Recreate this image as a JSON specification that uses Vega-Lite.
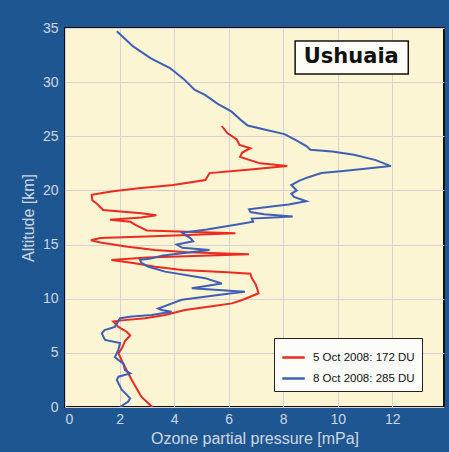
{
  "$schema": "https://vega.github.io/schema/vega-lite/v6.json",
  "width": 379,
  "height": 379,
  "autosize": "none",
  "padding": {"left": 65, "top": 28, "right": 5, "bottom": 45},
  "background": "#1d5690",
  "config": {
    "view": {"fill": "#fbf5d3", "stroke": "#111111", "strokeWidth": 2},
    "font": "Liberation Sans",
    "axis": {
      "grid": true,
      "gridColor": "#d8d2d6",
      "gridWidth": 1,
      "domain": false,
      "ticks": false,
      "labelColor": "#d0d7e2",
      "labelFontSize": 14,
      "titleColor": "#d0d7e2",
      "titleFontSize": 16,
      "titleFontWeight": "normal"
    }
  },
  "datasets": {
    "profiles": [
      {"series": "5 Oct 2008: 172 DU", "alt": 0.0, "o3": 3.2},
      {"series": "5 Oct 2008: 172 DU", "alt": 0.95, "o3": 2.8},
      {"series": "5 Oct 2008: 172 DU", "alt": 2.5, "o3": 2.45},
      {"series": "5 Oct 2008: 172 DU", "alt": 3.4, "o3": 2.26},
      {"series": "5 Oct 2008: 172 DU", "alt": 4.2, "o3": 2.1},
      {"series": "5 Oct 2008: 172 DU", "alt": 4.95, "o3": 1.96},
      {"series": "5 Oct 2008: 172 DU", "alt": 5.5, "o3": 2.1},
      {"series": "5 Oct 2008: 172 DU", "alt": 6.1, "o3": 2.2},
      {"series": "5 Oct 2008: 172 DU", "alt": 6.6, "o3": 2.39},
      {"series": "5 Oct 2008: 172 DU", "alt": 6.95, "o3": 2.26},
      {"series": "5 Oct 2008: 172 DU", "alt": 7.4, "o3": 1.96},
      {"series": "5 Oct 2008: 172 DU", "alt": 7.9, "o3": 1.77},
      {"series": "5 Oct 2008: 172 DU", "alt": 8.0, "o3": 2.08},
      {"series": "5 Oct 2008: 172 DU", "alt": 8.2, "o3": 2.94},
      {"series": "5 Oct 2008: 172 DU", "alt": 8.5, "o3": 3.67},
      {"series": "5 Oct 2008: 172 DU", "alt": 8.96, "o3": 4.4},
      {"series": "5 Oct 2008: 172 DU", "alt": 9.26, "o3": 5.26},
      {"series": "5 Oct 2008: 172 DU", "alt": 9.57, "o3": 6.12},
      {"series": "5 Oct 2008: 172 DU", "alt": 9.88, "o3": 6.5},
      {"series": "5 Oct 2008: 172 DU", "alt": 10.5, "o3": 7.1},
      {"series": "5 Oct 2008: 172 DU", "alt": 10.9, "o3": 7.05},
      {"series": "5 Oct 2008: 172 DU", "alt": 11.3, "o3": 7.0},
      {"series": "5 Oct 2008: 172 DU", "alt": 11.9, "o3": 6.85},
      {"series": "5 Oct 2008: 172 DU", "alt": 12.3, "o3": 6.8},
      {"series": "5 Oct 2008: 172 DU", "alt": 12.45, "o3": 5.95},
      {"series": "5 Oct 2008: 172 DU", "alt": 12.65, "o3": 4.3},
      {"series": "5 Oct 2008: 172 DU", "alt": 12.95, "o3": 3.3},
      {"series": "5 Oct 2008: 172 DU", "alt": 13.3, "o3": 2.5},
      {"series": "5 Oct 2008: 172 DU", "alt": 13.57, "o3": 1.7},
      {"series": "5 Oct 2008: 172 DU", "alt": 13.8, "o3": 3.0},
      {"series": "5 Oct 2008: 172 DU", "alt": 14.1, "o3": 6.75},
      {"series": "5 Oct 2008: 172 DU", "alt": 14.3, "o3": 4.5},
      {"series": "5 Oct 2008: 172 DU", "alt": 14.5, "o3": 3.3},
      {"series": "5 Oct 2008: 172 DU", "alt": 14.8, "o3": 2.3},
      {"series": "5 Oct 2008: 172 DU", "alt": 15.2, "o3": 1.3},
      {"series": "5 Oct 2008: 172 DU", "alt": 15.4, "o3": 0.95},
      {"series": "5 Oct 2008: 172 DU", "alt": 15.6, "o3": 1.3},
      {"series": "5 Oct 2008: 172 DU", "alt": 15.8, "o3": 3.5},
      {"series": "5 Oct 2008: 172 DU", "alt": 16.05, "o3": 6.25},
      {"series": "5 Oct 2008: 172 DU", "alt": 16.3, "o3": 3.0},
      {"series": "5 Oct 2008: 172 DU", "alt": 16.8, "o3": 2.6},
      {"series": "5 Oct 2008: 172 DU", "alt": 17.1, "o3": 2.4},
      {"series": "5 Oct 2008: 172 DU", "alt": 17.3, "o3": 1.65},
      {"series": "5 Oct 2008: 172 DU", "alt": 17.5, "o3": 2.8},
      {"series": "5 Oct 2008: 172 DU", "alt": 17.7, "o3": 3.35},
      {"series": "5 Oct 2008: 172 DU", "alt": 17.9, "o3": 2.8},
      {"series": "5 Oct 2008: 172 DU", "alt": 18.2, "o3": 1.4},
      {"series": "5 Oct 2008: 172 DU", "alt": 18.7, "o3": 1.2},
      {"series": "5 Oct 2008: 172 DU", "alt": 19.1, "o3": 1.0},
      {"series": "5 Oct 2008: 172 DU", "alt": 19.6, "o3": 0.98},
      {"series": "5 Oct 2008: 172 DU", "alt": 19.9, "o3": 1.7},
      {"series": "5 Oct 2008: 172 DU", "alt": 20.2, "o3": 2.7},
      {"series": "5 Oct 2008: 172 DU", "alt": 20.5, "o3": 3.97},
      {"series": "5 Oct 2008: 172 DU", "alt": 20.96, "o3": 5.15},
      {"series": "5 Oct 2008: 172 DU", "alt": 21.6, "o3": 5.3},
      {"series": "5 Oct 2008: 172 DU", "alt": 21.9, "o3": 6.7},
      {"series": "5 Oct 2008: 172 DU", "alt": 22.25, "o3": 8.15},
      {"series": "5 Oct 2008: 172 DU", "alt": 22.5, "o3": 7.16},
      {"series": "5 Oct 2008: 172 DU", "alt": 23.1, "o3": 6.42},
      {"series": "5 Oct 2008: 172 DU", "alt": 23.5, "o3": 6.5},
      {"series": "5 Oct 2008: 172 DU", "alt": 23.9, "o3": 6.8},
      {"series": "5 Oct 2008: 172 DU", "alt": 24.2, "o3": 6.4},
      {"series": "5 Oct 2008: 172 DU", "alt": 24.7, "o3": 6.3},
      {"series": "5 Oct 2008: 172 DU", "alt": 25.3, "o3": 5.95},
      {"series": "5 Oct 2008: 172 DU", "alt": 25.95, "o3": 5.75},
      {"series": "8 Oct 2008: 285 DU", "alt": 0.0, "o3": 2.02},
      {"series": "8 Oct 2008: 285 DU", "alt": 0.5, "o3": 2.32},
      {"series": "8 Oct 2008: 285 DU", "alt": 0.8, "o3": 2.39},
      {"series": "8 Oct 2008: 285 DU", "alt": 1.6, "o3": 2.08},
      {"series": "8 Oct 2008: 285 DU", "alt": 2.5, "o3": 1.9},
      {"series": "8 Oct 2008: 285 DU", "alt": 2.8, "o3": 1.96},
      {"series": "8 Oct 2008: 285 DU", "alt": 3.1, "o3": 2.39},
      {"series": "8 Oct 2008: 285 DU", "alt": 3.4, "o3": 2.2},
      {"series": "8 Oct 2008: 285 DU", "alt": 4.0, "o3": 2.14},
      {"series": "8 Oct 2008: 285 DU", "alt": 4.6, "o3": 1.83},
      {"series": "8 Oct 2008: 285 DU", "alt": 5.3, "o3": 1.96},
      {"series": "8 Oct 2008: 285 DU", "alt": 5.9, "o3": 2.02},
      {"series": "8 Oct 2008: 285 DU", "alt": 6.2, "o3": 1.47},
      {"series": "8 Oct 2008: 285 DU", "alt": 6.8, "o3": 1.35},
      {"series": "8 Oct 2008: 285 DU", "alt": 7.1, "o3": 1.45},
      {"series": "8 Oct 2008: 285 DU", "alt": 7.4, "o3": 1.83},
      {"series": "8 Oct 2008: 285 DU", "alt": 7.7, "o3": 1.9},
      {"series": "8 Oct 2008: 285 DU", "alt": 8.2, "o3": 2.02},
      {"series": "8 Oct 2008: 285 DU", "alt": 8.35, "o3": 2.45},
      {"series": "8 Oct 2008: 285 DU", "alt": 8.5, "o3": 3.18},
      {"series": "8 Oct 2008: 285 DU", "alt": 8.8, "o3": 3.91},
      {"series": "8 Oct 2008: 285 DU", "alt": 8.96, "o3": 3.55},
      {"series": "8 Oct 2008: 285 DU", "alt": 9.1, "o3": 3.42},
      {"series": "8 Oct 2008: 285 DU", "alt": 9.9, "o3": 4.28},
      {"series": "8 Oct 2008: 285 DU", "alt": 10.5, "o3": 6.12},
      {"series": "8 Oct 2008: 285 DU", "alt": 10.65, "o3": 6.6},
      {"series": "8 Oct 2008: 285 DU", "alt": 10.96, "o3": 4.65},
      {"series": "8 Oct 2008: 285 DU", "alt": 11.4, "o3": 5.75},
      {"series": "8 Oct 2008: 285 DU", "alt": 11.9, "o3": 5.14},
      {"series": "8 Oct 2008: 285 DU", "alt": 12.5, "o3": 3.67},
      {"series": "8 Oct 2008: 285 DU", "alt": 12.95, "o3": 3.06},
      {"series": "8 Oct 2008: 285 DU", "alt": 13.3, "o3": 2.81},
      {"series": "8 Oct 2008: 285 DU", "alt": 13.6, "o3": 2.75},
      {"series": "8 Oct 2008: 285 DU", "alt": 13.7, "o3": 3.1},
      {"series": "8 Oct 2008: 285 DU", "alt": 14.0, "o3": 3.6},
      {"series": "8 Oct 2008: 285 DU", "alt": 14.3, "o3": 4.6},
      {"series": "8 Oct 2008: 285 DU", "alt": 14.5, "o3": 5.3},
      {"series": "8 Oct 2008: 285 DU", "alt": 14.7, "o3": 4.3},
      {"series": "8 Oct 2008: 285 DU", "alt": 15.0, "o3": 4.1},
      {"series": "8 Oct 2008: 285 DU", "alt": 15.3, "o3": 4.7},
      {"series": "8 Oct 2008: 285 DU", "alt": 15.6, "o3": 4.6},
      {"series": "8 Oct 2008: 285 DU", "alt": 15.9, "o3": 4.4},
      {"series": "8 Oct 2008: 285 DU", "alt": 16.1, "o3": 4.3},
      {"series": "8 Oct 2008: 285 DU", "alt": 16.4, "o3": 5.2},
      {"series": "8 Oct 2008: 285 DU", "alt": 16.8, "o3": 6.2},
      {"series": "8 Oct 2008: 285 DU", "alt": 17.1, "o3": 6.9},
      {"series": "8 Oct 2008: 285 DU", "alt": 17.4, "o3": 6.85},
      {"series": "8 Oct 2008: 285 DU", "alt": 17.6, "o3": 8.35},
      {"series": "8 Oct 2008: 285 DU", "alt": 17.8, "o3": 7.3},
      {"series": "8 Oct 2008: 285 DU", "alt": 18.0, "o3": 6.8},
      {"series": "8 Oct 2008: 285 DU", "alt": 18.25, "o3": 6.75},
      {"series": "8 Oct 2008: 285 DU", "alt": 18.5, "o3": 7.5},
      {"series": "8 Oct 2008: 285 DU", "alt": 18.7, "o3": 8.2},
      {"series": "8 Oct 2008: 285 DU", "alt": 19.0, "o3": 8.85},
      {"series": "8 Oct 2008: 285 DU", "alt": 19.4, "o3": 8.4},
      {"series": "8 Oct 2008: 285 DU", "alt": 19.7, "o3": 8.3},
      {"series": "8 Oct 2008: 285 DU", "alt": 20.0, "o3": 8.5},
      {"series": "8 Oct 2008: 285 DU", "alt": 20.5, "o3": 8.3},
      {"series": "8 Oct 2008: 285 DU", "alt": 20.9, "o3": 8.6},
      {"series": "8 Oct 2008: 285 DU", "alt": 21.2, "o3": 8.9},
      {"series": "8 Oct 2008: 285 DU", "alt": 21.6, "o3": 9.4},
      {"series": "8 Oct 2008: 285 DU", "alt": 21.8, "o3": 10.2},
      {"series": "8 Oct 2008: 285 DU", "alt": 22.0, "o3": 11.0},
      {"series": "8 Oct 2008: 285 DU", "alt": 22.25, "o3": 11.95},
      {"series": "8 Oct 2008: 285 DU", "alt": 22.8, "o3": 11.4},
      {"series": "8 Oct 2008: 285 DU", "alt": 23.3, "o3": 10.6},
      {"series": "8 Oct 2008: 285 DU", "alt": 23.6, "o3": 9.8},
      {"series": "8 Oct 2008: 285 DU", "alt": 23.75, "o3": 9.0},
      {"series": "8 Oct 2008: 285 DU", "alt": 24.1, "o3": 8.85},
      {"series": "8 Oct 2008: 285 DU", "alt": 24.6, "o3": 8.5},
      {"series": "8 Oct 2008: 285 DU", "alt": 25.2, "o3": 8.05},
      {"series": "8 Oct 2008: 285 DU", "alt": 25.6, "o3": 7.35},
      {"series": "8 Oct 2008: 285 DU", "alt": 26.0, "o3": 6.7},
      {"series": "8 Oct 2008: 285 DU", "alt": 26.4, "o3": 6.5},
      {"series": "8 Oct 2008: 285 DU", "alt": 27.3, "o3": 6.1},
      {"series": "8 Oct 2008: 285 DU", "alt": 28.0, "o3": 5.6},
      {"series": "8 Oct 2008: 285 DU", "alt": 28.8, "o3": 5.15},
      {"series": "8 Oct 2008: 285 DU", "alt": 29.3, "o3": 4.75},
      {"series": "8 Oct 2008: 285 DU", "alt": 30.3, "o3": 4.35},
      {"series": "8 Oct 2008: 285 DU", "alt": 31.3, "o3": 3.85},
      {"series": "8 Oct 2008: 285 DU", "alt": 32.2, "o3": 3.15},
      {"series": "8 Oct 2008: 285 DU", "alt": 33.3, "o3": 2.5},
      {"series": "8 Oct 2008: 285 DU", "alt": 34.7, "o3": 1.9}
    ],
    "station": [{"name": "Ushuaia"}]
  },
  "layer": [
    {
      "data": {"name": "profiles"},
      "mark": {"type": "line", "strokeWidth": 2, "clip": true},
      "encoding": {
        "x": {
          "field": "o3",
          "type": "quantitative",
          "scale": {"domain": [0, 13.9], "nice": false},
          "axis": {"values": [0, 2, 4, 6, 8, 10, 12], "title": "Ozone partial pressure [mPa]", "labelPadding": 5, "titlePadding": 4}
        },
        "y": {
          "field": "alt",
          "type": "quantitative",
          "scale": {"domain": [0, 35], "nice": false},
          "axis": {"values": [0, 5, 10, 15, 20, 25, 30, 35], "title": "Altitude [km]", "labelPadding": 7, "titlePadding": 6}
        },
        "color": {
          "field": "series",
          "type": "nominal",
          "scale": {"range": ["#ec2a1f", "#3f5fb5"]},
          "legend": {
            "title": null,
            "orient": "none",
            "legendX": 209,
            "legendY": 310,
            "fillColor": "#fcfcf8",
            "strokeColor": "#222222",
            "padding": 7,
            "symbolType": "stroke",
            "symbolSize": 500,
            "symbolStrokeWidth": 2.5,
            "labelFontSize": 11.5,
            "labelColor": "#111111",
            "labelOffset": 7,
            "rowPadding": 3
          }
        },
        "order": {"field": "alt", "type": "quantitative"}
      }
    },
    {
      "data": {"name": "station"},
      "mark": {"type": "rect", "fill": "#fdfcf6", "stroke": "#111111", "strokeWidth": 1.5},
      "encoding": {
        "x": {"datum": 8.44},
        "x2": {"datum": 12.59},
        "y": {"datum": 33.8},
        "y2": {"datum": 30.75}
      }
    },
    {
      "data": {"name": "station"},
      "mark": {"type": "text", "font": "DejaVu Sans", "fontWeight": "bold", "fontSize": 21, "color": "#111111"},
      "encoding": {
        "text": {"field": "name"},
        "x": {"datum": 10.5},
        "y": {"datum": 32.3}
      }
    }
  ]
}
